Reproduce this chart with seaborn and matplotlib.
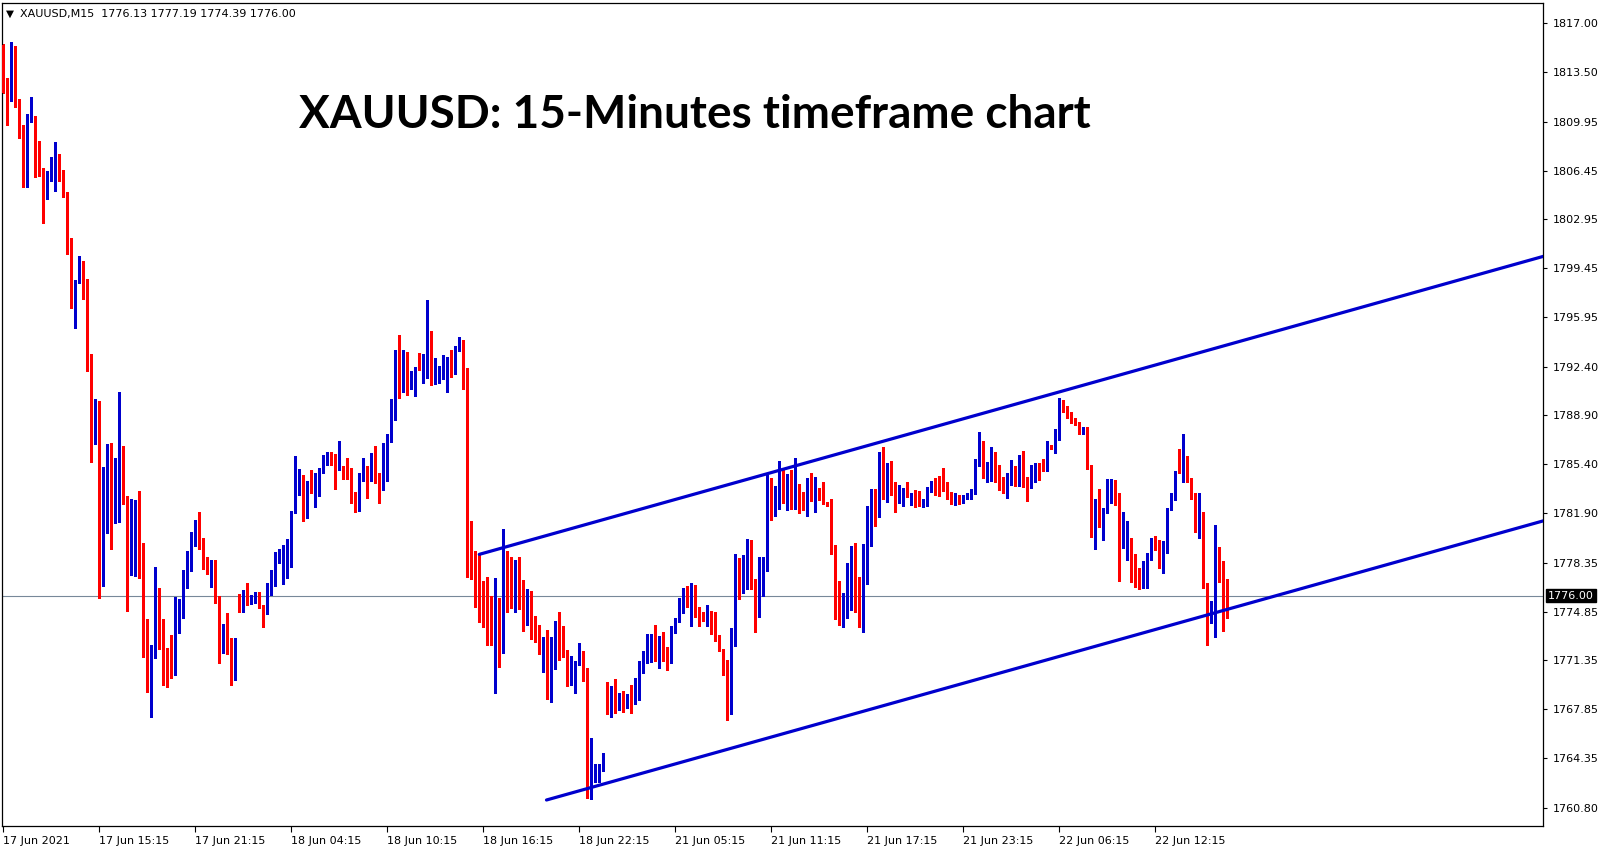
import numpy as np
import matplotlib
matplotlib.use("Agg")
import matplotlib.pyplot as plt
import matplotlib.transforms as mtransforms
import seaborn as sns

# ---------------- data (XAUUSD M15, bars 0..306) ----------------
opens = [
1815.45, 1812.94, 1811.58, 1815.32, 1811.15, 1809.43, 1805.58, 1810.22, 1810.27, 1807.56,
1806.20, 1804.58, 1805.77, 1806.49, 1807.56, 1806.08, 1804.70, 1800.88, 1797.12, 1798.56,
1799.54, 1798.68, 1792.52, 1788.46, 1788.86, 1777.88, 1781.48, 1785.47, 1783.15, 1784.16,
1786.14, 1783.13, 1778.50, 1779.93, 1780.53, 1778.62, 1773.53, 1771.86, 1772.41, 1776.16,
1773.89, 1771.33, 1770.74, 1770.71, 1773.69, 1774.61, 1777.71, 1778.62, 1780.29, 1780.70,
1779.62, 1778.12, 1777.71, 1778.55, 1775.85, 1772.05, 1773.72, 1772.22, 1771.33, 1775.47,
1775.45, 1776.23, 1775.63, 1775.92, 1776.20, 1775.27, 1774.73, 1776.81, 1777.47, 1778.85,
1779.10, 1779.07, 1779.07, 1781.94, 1784.35, 1784.56, 1781.89, 1783.85, 1783.37, 1784.51,
1785.05, 1785.83, 1786.24, 1785.88, 1785.00, 1785.23, 1784.71, 1784.56, 1783.01, 1782.92,
1784.64, 1785.23, 1784.87, 1786.14, 1784.64, 1783.56, 1786.43, 1787.15, 1788.86, 1793.00,
1790.73, 1793.40, 1790.96, 1791.01, 1792.28, 1792.16, 1792.83, 1794.36, 1791.60, 1791.60,
1791.51, 1791.63, 1793.00, 1792.00, 1793.59, 1794.12, 1791.92, 1778.83, 1778.35, 1777.28,
1775.92, 1774.96, 1774.68, 1773.10, 1775.68, 1773.41, 1778.62, 1777.95, 1775.75, 1775.99,
1775.61, 1774.12, 1776.33, 1773.89, 1773.37, 1770.50, 1773.37, 1769.11, 1772.33, 1773.12,
1772.46, 1772.03, 1769.83, 1770.71, 1771.19, 1771.93, 1770.54, 1761.87, 1762.83, 1763.07,
1763.50, 1768.68, 1767.60, 1768.80, 1767.92, 1768.59, 1768.04, 1768.44, 1768.39, 1769.28,
1771.19, 1771.50, 1772.93, 1773.10, 1772.05, 1772.74, 1771.67, 1771.33, 1773.82, 1774.30,
1775.75, 1775.92, 1775.20, 1776.71, 1774.89, 1774.53, 1774.30, 1774.48, 1774.41, 1773.17,
1772.10, 1771.26, 1768.11, 1773.17, 1777.90, 1776.92, 1778.07, 1778.38, 1776.95, 1774.43,
1778.60, 1778.62, 1784.28, 1781.94, 1783.56, 1785.00, 1782.68, 1784.64, 1782.65, 1783.92,
1782.84, 1782.18, 1783.37, 1782.92, 1783.68, 1783.44, 1782.63, 1782.61, 1779.62, 1775.85,
1774.53, 1774.96, 1777.23, 1778.90, 1776.33, 1775.16, 1778.50, 1781.70, 1783.13, 1782.61,
1784.80, 1783.75, 1784.47, 1783.44, 1782.72, 1783.04, 1783.49, 1783.13, 1783.20, 1782.92,
1782.42, 1782.80, 1783.61, 1783.99, 1783.99, 1783.80, 1783.63, 1783.08, 1782.72, 1783.13,
1782.68, 1783.04, 1782.92, 1783.27, 1785.42, 1787.02, 1785.07, 1785.28, 1786.24, 1784.47,
1784.47, 1783.49, 1784.16, 1784.87, 1784.20, 1785.95, 1784.40, 1783.75, 1785.16, 1785.47,
1785.42, 1785.00, 1786.71, 1786.50, 1787.74, 1789.29, 1789.22, 1788.94, 1788.50, 1788.41,
1787.62, 1788.10, 1785.35, 1781.70, 1782.84, 1781.00, 1782.13, 1783.44, 1783.49, 1783.32,
1779.57, 1779.93, 1779.98, 1777.83, 1777.28, 1777.16, 1777.28, 1778.60, 1780.05, 1779.74,
1778.62, 1779.79, 1782.18, 1782.85, 1784.87, 1784.80, 1785.95, 1784.33, 1783.32, 1780.57,
1781.53, 1776.88, 1774.48, 1774.68, 1779.03, 1777.04, 1776.13]

highs = [
1815.50, 1813.10, 1815.64, 1815.37, 1811.56, 1809.71, 1810.50, 1811.74, 1810.36, 1808.57,
1806.65, 1806.42, 1807.44, 1808.50, 1807.63, 1806.49, 1804.89, 1801.60, 1798.61, 1800.33,
1799.97, 1798.70, 1793.31, 1790.08, 1789.94, 1785.23, 1786.86, 1786.91, 1785.83, 1790.56,
1786.74, 1783.13, 1782.89, 1782.84, 1783.49, 1779.79, 1774.32, 1772.46, 1778.07, 1776.56,
1774.32, 1772.26, 1773.17, 1775.92, 1775.75, 1777.83, 1779.19, 1780.57, 1781.41, 1781.96,
1780.14, 1778.74, 1778.55, 1778.55, 1775.99, 1773.96, 1774.73, 1772.94, 1772.94, 1776.11,
1776.40, 1776.92, 1776.04, 1776.27, 1776.27, 1775.32, 1776.92, 1777.83, 1779.10, 1779.34,
1779.62, 1780.05, 1782.08, 1786.02, 1785.07, 1784.64, 1784.20, 1784.99, 1784.80, 1785.16,
1786.07, 1786.31, 1786.31, 1786.14, 1787.07, 1785.30, 1785.88, 1785.12, 1783.44, 1784.80,
1785.88, 1785.30, 1786.19, 1786.71, 1784.76, 1786.91, 1787.57, 1790.08, 1793.59, 1794.67,
1793.59, 1793.47, 1792.11, 1792.35, 1793.36, 1793.31, 1797.17, 1794.95, 1792.99, 1792.45,
1793.24, 1793.07, 1793.59, 1793.88, 1794.50, 1794.31, 1792.28, 1781.34, 1779.19, 1778.91,
1777.06, 1777.35, 1775.99, 1777.28, 1775.85, 1780.77, 1779.19, 1778.78, 1778.55, 1778.74,
1777.11, 1776.47, 1776.33, 1774.53, 1773.89, 1773.05, 1773.53, 1773.05, 1774.17, 1774.80,
1773.82, 1772.10, 1771.67, 1771.33, 1772.62, 1772.03, 1770.78, 1765.81, 1763.91, 1763.91,
1764.74, 1769.83, 1769.52, 1770.00, 1769.04, 1769.18, 1768.94, 1769.59, 1770.07, 1771.33,
1772.03, 1773.24, 1773.24, 1773.89, 1773.12, 1773.41, 1772.33, 1773.84, 1774.41, 1775.85,
1776.52, 1776.71, 1776.88, 1776.76, 1775.20, 1774.82, 1775.32, 1774.89, 1774.80, 1773.17,
1772.15, 1771.38, 1773.70, 1778.95, 1778.67, 1778.91, 1780.05, 1780.00, 1777.19, 1778.78,
1778.78, 1784.64, 1784.40, 1783.87, 1785.64, 1785.16, 1784.69, 1784.99, 1785.88, 1783.97,
1783.40, 1784.40, 1784.80, 1784.51, 1783.73, 1784.16, 1782.70, 1782.89, 1779.62, 1777.04,
1776.16, 1778.31, 1779.55, 1779.79, 1777.35, 1779.67, 1782.42, 1783.61, 1783.61, 1786.31,
1786.62, 1785.47, 1785.66, 1784.16, 1783.92, 1783.68, 1784.16, 1783.37, 1783.56, 1783.49,
1782.89, 1783.75, 1784.20, 1784.40, 1784.56, 1785.12, 1784.16, 1783.44, 1783.32, 1783.20,
1783.20, 1783.32, 1783.61, 1785.76, 1787.74, 1787.09, 1785.59, 1786.62, 1786.31, 1785.35,
1784.51, 1784.76, 1785.71, 1785.28, 1786.07, 1786.36, 1784.47, 1785.35, 1785.52, 1785.52,
1785.78, 1787.07, 1786.79, 1787.91, 1790.13, 1790.01, 1789.58, 1789.17, 1788.70, 1788.46,
1788.10, 1788.10, 1785.35, 1782.92, 1783.63, 1782.29, 1784.35, 1784.33, 1784.28, 1783.32,
1782.01, 1781.34, 1780.14, 1778.95, 1777.95, 1778.47, 1779.03, 1780.14, 1780.29, 1779.98,
1779.93, 1782.25, 1783.37, 1784.92, 1786.48, 1787.55, 1786.00, 1784.40, 1783.37, 1783.32,
1782.01, 1776.88, 1775.61, 1781.05, 1779.46, 1778.47, 1777.19]

lows = [
1812.00, 1809.71, 1811.45, 1811.02, 1808.80, 1805.29, 1805.29, 1809.95, 1806.01, 1806.06,
1802.71, 1804.41, 1805.70, 1804.98, 1805.72, 1804.58, 1800.45, 1796.62, 1795.15, 1798.41,
1797.22, 1792.11, 1785.59, 1786.86, 1775.85, 1776.71, 1780.46, 1779.31, 1781.18, 1781.29,
1782.56, 1774.91, 1777.47, 1777.40, 1777.28, 1771.62, 1769.11, 1767.28, 1771.50, 1772.15,
1769.59, 1769.47, 1770.11, 1770.31, 1773.34, 1774.41, 1776.56, 1777.78, 1779.57, 1779.34,
1777.90, 1777.52, 1776.63, 1775.49, 1771.19, 1771.90, 1771.81, 1769.59, 1769.95, 1774.84,
1774.84, 1775.32, 1775.39, 1775.49, 1775.09, 1773.77, 1774.68, 1776.04, 1776.71, 1778.35,
1776.83, 1777.28, 1778.07, 1781.94, 1783.20, 1781.36, 1781.58, 1783.32, 1782.37, 1783.15,
1784.76, 1785.35, 1785.35, 1783.63, 1785.00, 1784.35, 1784.33, 1782.65, 1782.01, 1782.08,
1784.20, 1783.01, 1784.20, 1784.08, 1782.65, 1783.56, 1784.20, 1787.02, 1788.58, 1790.17,
1790.60, 1790.37, 1790.80, 1790.32, 1792.16, 1791.21, 1791.56, 1791.08, 1791.16, 1791.25,
1791.51, 1790.60, 1791.68, 1791.85, 1793.54, 1790.80, 1777.35, 1777.19, 1775.20, 1774.12,
1773.77, 1772.46, 1772.46, 1768.99, 1770.90, 1771.90, 1774.84, 1775.09, 1774.84, 1775.04,
1773.48, 1773.89, 1772.89, 1772.69, 1771.79, 1770.50, 1768.59, 1768.40, 1770.74, 1771.38,
1771.62, 1769.54, 1769.59, 1768.99, 1771.02, 1769.87, 1761.47, 1761.40, 1762.66, 1762.66,
1763.45, 1767.51, 1767.28, 1767.60, 1767.80, 1767.68, 1767.96, 1767.60, 1768.21, 1768.52,
1770.43, 1771.14, 1771.21, 1771.31, 1770.79, 1771.33, 1770.67, 1771.14, 1773.29, 1774.08,
1774.73, 1775.20, 1773.82, 1774.49, 1773.84, 1774.15, 1773.84, 1773.24, 1772.74, 1772.00,
1770.31, 1767.08, 1767.51, 1772.41, 1775.75, 1776.16, 1776.47, 1776.50, 1773.41, 1774.43,
1775.99, 1777.78, 1781.41, 1781.72, 1782.18, 1782.61, 1782.13, 1782.18, 1782.18, 1781.89,
1782.13, 1781.72, 1782.77, 1782.01, 1782.84, 1782.56, 1782.40, 1778.95, 1774.30, 1773.89,
1773.72, 1774.41, 1774.96, 1774.84, 1773.72, 1773.41, 1776.83, 1779.57, 1780.98, 1781.65,
1782.89, 1782.72, 1783.20, 1782.01, 1782.65, 1782.42, 1783.04, 1782.49, 1782.37, 1782.42,
1782.32, 1782.42, 1783.44, 1783.20, 1783.13, 1783.51, 1782.92, 1782.53, 1782.49, 1782.56,
1782.61, 1782.89, 1782.89, 1783.27, 1785.30, 1784.44, 1784.16, 1784.23, 1784.16, 1783.56,
1783.32, 1782.97, 1783.92, 1783.85, 1783.87, 1783.80, 1782.80, 1783.68, 1784.16, 1784.28,
1784.92, 1784.95, 1786.48, 1786.19, 1787.14, 1789.17, 1788.70, 1788.34, 1788.22, 1787.57,
1787.57, 1785.04, 1780.22, 1779.31, 1780.93, 1779.98, 1781.94, 1782.65, 1782.49, 1777.04,
1779.39, 1778.55, 1776.99, 1776.63, 1776.45, 1776.52, 1776.52, 1778.55, 1779.26, 1777.95,
1777.64, 1779.07, 1782.13, 1782.85, 1784.76, 1784.16, 1784.16, 1782.89, 1780.53, 1780.10,
1776.52, 1772.46, 1774.06, 1773.05, 1776.99, 1773.48, 1774.39]

closes = [
1812.03, 1811.74, 1815.32, 1811.15, 1809.41, 1805.58, 1810.36, 1810.29, 1807.56, 1806.13,
1804.70, 1805.84, 1806.65, 1807.56, 1806.01, 1804.70, 1800.76, 1797.12, 1798.61, 1799.54,
1798.61, 1792.40, 1788.53, 1788.94, 1777.88, 1781.53, 1785.64, 1783.08, 1784.20, 1786.19,
1783.15, 1778.60, 1780.17, 1780.53, 1778.60, 1773.48, 1771.86, 1772.46, 1776.16, 1773.77,
1771.26, 1770.71, 1770.62, 1773.72, 1774.61, 1777.66, 1778.67, 1780.34, 1780.70, 1779.57,
1778.14, 1777.71, 1778.47, 1775.75, 1772.05, 1773.72, 1772.17, 1771.45, 1772.81, 1775.40,
1776.16, 1775.63, 1775.92, 1776.23, 1775.13, 1774.73, 1776.83, 1777.54, 1778.98, 1779.14,
1779.19, 1779.19, 1782.01, 1784.35, 1784.56, 1781.94, 1783.85, 1783.37, 1784.51, 1785.07,
1785.88, 1786.24, 1785.76, 1785.00, 1785.19, 1784.64, 1784.40, 1782.97, 1782.92, 1784.71,
1785.23, 1784.92, 1786.14, 1784.56, 1783.61, 1786.50, 1787.19, 1788.94, 1793.07, 1790.73,
1793.36, 1790.96, 1791.16, 1792.28, 1792.16, 1792.88, 1794.43, 1791.51, 1791.66, 1791.66,
1791.63, 1792.95, 1792.00, 1793.59, 1794.12, 1791.80, 1778.78, 1778.26, 1777.19, 1775.85,
1774.91, 1774.68, 1773.10, 1775.68, 1773.41, 1778.71, 1777.95, 1775.75, 1775.99, 1775.56,
1774.17, 1776.35, 1773.84, 1773.41, 1771.90, 1772.38, 1769.11, 1772.38, 1773.12, 1772.41,
1771.93, 1769.83, 1770.74, 1771.26, 1772.03, 1770.54, 1762.19, 1762.90, 1763.26, 1763.62,
1764.57, 1767.56, 1768.80, 1767.92, 1768.59, 1768.04, 1768.39, 1768.35, 1769.40, 1771.26,
1771.62, 1772.98, 1773.12, 1772.05, 1772.81, 1771.62, 1771.33, 1773.82, 1774.32, 1775.75,
1775.92, 1775.27, 1776.71, 1774.77, 1774.48, 1774.30, 1774.41, 1774.32, 1773.10, 1772.05,
1771.10, 1768.11, 1773.29, 1777.83, 1776.83, 1778.14, 1778.38, 1776.92, 1774.43, 1778.67,
1778.71, 1784.28, 1781.46, 1783.63, 1785.00, 1783.37, 1784.59, 1782.65, 1783.99, 1782.80,
1782.18, 1783.32, 1782.84, 1783.68, 1783.40, 1782.61, 1782.54, 1779.57, 1775.80, 1774.53,
1775.01, 1777.40, 1778.90, 1776.27, 1775.16, 1778.55, 1781.70, 1783.13, 1782.61, 1784.71,
1783.75, 1784.40, 1783.32, 1782.80, 1783.13, 1783.49, 1783.13, 1783.27, 1782.80, 1782.44,
1782.84, 1783.63, 1783.99, 1783.92, 1783.80, 1783.56, 1782.97, 1782.72, 1783.08, 1782.68,
1783.13, 1783.13, 1783.27, 1785.47, 1786.95, 1785.19, 1785.19, 1786.31, 1784.44, 1784.40,
1783.49, 1784.20, 1784.71, 1784.20, 1785.99, 1783.85, 1783.73, 1785.19, 1785.42, 1785.35,
1785.00, 1786.71, 1786.55, 1787.74, 1789.29, 1789.17, 1788.94, 1788.38, 1788.34, 1787.62,
1788.02, 1785.28, 1781.70, 1782.84, 1781.00, 1782.25, 1783.49, 1783.49, 1783.25, 1779.57,
1779.98, 1780.05, 1777.90, 1777.28, 1777.16, 1777.35, 1778.62, 1780.05, 1779.69, 1778.62,
1779.81, 1782.20, 1782.97, 1784.87, 1784.80, 1785.95, 1784.28, 1783.32, 1780.57, 1781.53,
1776.76, 1774.61, 1774.73, 1779.03, 1777.06, 1776.20, 1776.00]

time_tick_bars = [0, 24, 48, 72, 96, 120, 144, 168, 192, 216, 240, 264, 288]
time_tick_labels = ["17 Jun 2021", "17 Jun 15:15", "17 Jun 21:15", "18 Jun 04:15",
                    "18 Jun 10:15", "18 Jun 16:15", "18 Jun 22:15", "21 Jun 05:15",
                    "21 Jun 11:15", "21 Jun 17:15", "21 Jun 23:15", "22 Jun 06:15",
                    "22 Jun 12:15"]
price_ticks = [1817.00, 1813.50, 1809.95, 1806.45, 1802.95, 1799.45, 1795.95, 1792.40,
               1788.90, 1785.40, 1781.90, 1778.35, 1774.85, 1771.35, 1767.85, 1764.35,
               1760.80]
price_tick_labels = ["1817.00", "1813.50", "1809.95", "1806.45", "1802.95", "1799.45",
                     "1795.95", "1792.40", "1788.90", "1785.40", "1781.90", "1778.35",
                     "1774.85", "1771.35", "1767.85", "1764.35", "1760.80"]
last_price = 1776.00

upper_bars = [119.0, 385.0]
upper_prices = [1778.95, 1800.30]
lower_bars = [135.8, 385.0]
lower_prices = [1761.35, 1781.35]

title_text = "XAUUSD: 15-Minutes timeframe chart"
header_text = "XAUUSD,M15  1776.13 1777.19 1774.39 1776.00"

# ---------------- drawing ----------------
sns.set_theme(style="white")
plt.rcParams["font.family"] = ["DejaVu Sans"]

BLUE = "#0000cd"
RED = "#ff0000"

W, H = 1607, 850
fig = plt.figure(figsize=(W / 100, H / 100), dpi=100)
fig.patch.set_facecolor("white")
ax = fig.add_axes([2 / W, 1 - 826 / H, (1543 - 2) / W, (826 - 3) / H])
ax.set_facecolor("white")

o = np.array(opens)
h = np.array(highs)
l = np.array(lows)
c = np.array(closes)
idx = np.arange(len(o))
bull = c >= o
cols = np.where(bull, BLUE, RED)
hi = np.maximum(h, np.maximum(o, c))
lo = np.minimum(l, np.minimum(o, c))

ax.axhline(last_price, color="#778899", lw=0.8, zorder=1)

ax.vlines(idx, lo, hi, colors=cols, linewidth=0.9, antialiased=False, zorder=2)
body_bot = np.minimum(o, c)
body_h = np.maximum(np.abs(c - o), 0.075)
ax.bar(idx, body_h, bottom=body_bot, width=0.85, color=cols, linewidth=0,
       antialiased=False, zorder=3)

sns.lineplot(x=upper_bars, y=upper_prices, ax=ax, color=BLUE, linewidth=2.3, zorder=4)
sns.lineplot(x=lower_bars, y=lower_prices, ax=ax, color=BLUE, linewidth=2.3, zorder=4)

ax.set_xlim(-0.325, 384.93)
ax.set_ylim(1759.487, 1818.454)

for s in ax.spines.values():
    s.set_color("black")
    s.set_linewidth(0.9)
    s.set_visible(True)

ax.yaxis.tick_right()
ax.set_yticks(price_ticks)
ax.set_yticklabels(price_tick_labels)
ax.set_xticks(time_tick_bars)
ax.set_xticklabels(time_tick_labels, ha="left")
ax.tick_params(axis="y", which="major", direction="out", length=3, width=0.8,
               color="black", labelsize=8, pad=4, labelcolor="black",
               right=True, left=False)
ax.tick_params(axis="x", which="major", direction="out", length=4, width=0.8,
               color="black", labelsize=8, pad=3, labelcolor="black",
               bottom=True)
ax.set_xlabel("")
ax.set_ylabel("")
ax.grid(False)

# current price label box
trans = mtransforms.blended_transform_factory(ax.transAxes, ax.transData)
ax.text(1.0 + 5 / (1543 - 2), last_price, f"{last_price:.2f}", transform=trans,
        ha="left", va="center", fontsize=8, color="white", zorder=10,
        bbox=dict(boxstyle="square,pad=0.15", facecolor="black", edgecolor="black"),
        clip_on=False)

# header
fig.text(6 / W, 1 - 13.5 / H, "\u25bc", fontsize=7.5, ha="left", va="center", color="black")
fig.text(20.5 / W, 1 - 13.5 / H, header_text, fontsize=8, ha="left", va="center",
         color="black")

# title
fig.text(695 / W, 1 - 115 / H, title_text, fontsize=33, fontweight="bold",
         family=["Lato", "DejaVu Sans"], ha="center", va="center", color="black")

fig.savefig("out.png", dpi=100, facecolor="white")
